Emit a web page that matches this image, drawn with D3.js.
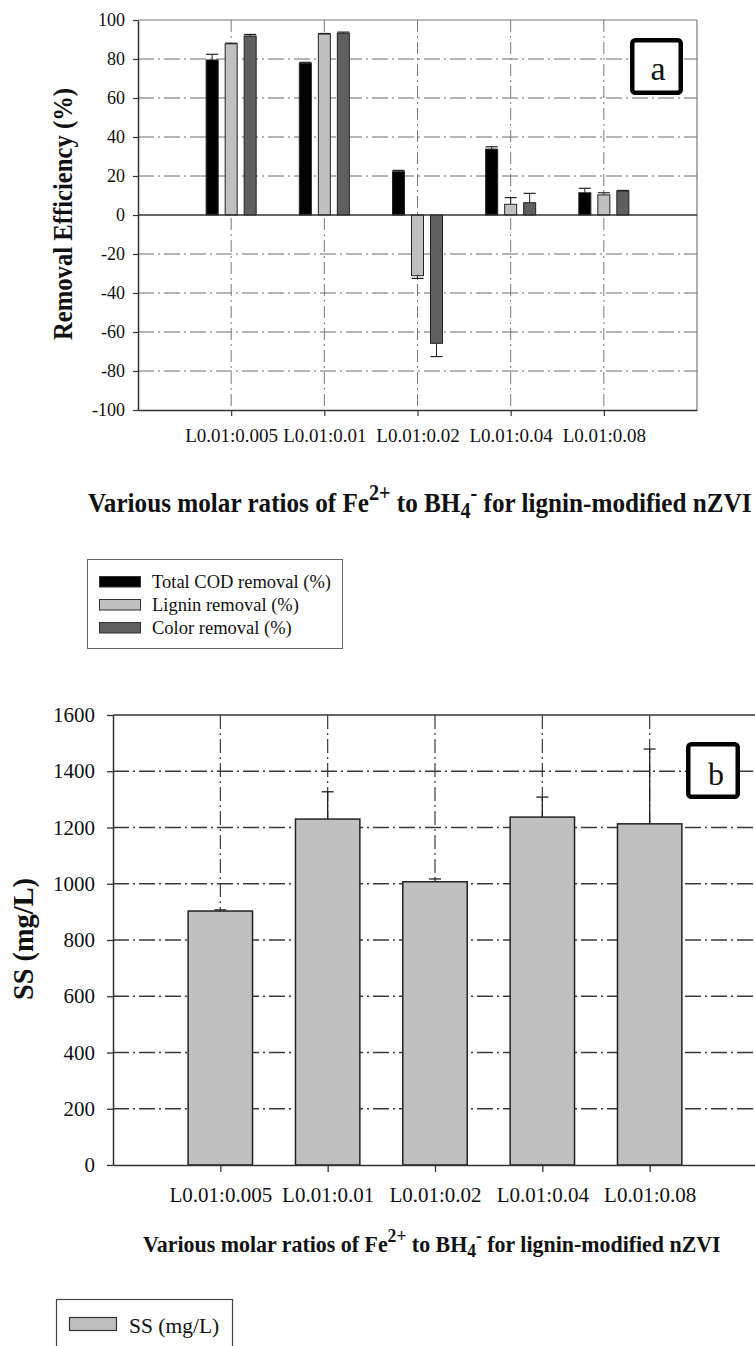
<!DOCTYPE html>
<html>
<head>
<meta charset="utf-8">
<script src="https://cdn.jsdelivr.net/npm/d3@7"></script>
<style>
  body { margin: 0; background: #fff; }
  svg { display: block; }
  text { font-family: "Liberation Serif", "Times New Roman", serif; fill: #111; }
</style>
</head>
<body>
<svg id="chart" width="755" height="1346"></svg>
<script>
// Sample labels (molar ratio Fe2+ : BH4- for lignin-modified nZVI)
const categories = ["L0.01:0.005", "L0.01:0.01", "L0.01:0.02", "L0.01:0.04", "L0.01:0.08"];

// Panel a: removal efficiencies (%) with standard deviations
const seriesNames = ["Total COD removal (%)", "Lignin removal (%)", "Color removal (%)"];
const seriesColors = ["#000000", "#c0c0c0", "#5f5f5f"];
const codRemoval    = [79.5, 77.8, 22.2, 33.8, 11.4];
const codErr        = [2.9, 0.5, 0.7, 1.2, 2.3];
const ligninRemoval = [87.8, 92.8, -31.1, 5.5, 10.3];
const ligninErr     = [0.3, 0.3, 1.4, 3.4, 1.1];
const colorRemoval  = [91.8, 93.2, -65.8, 6.3, 12.3];
const colorErr      = [0.8, 0.6, 6.8, 4.8, 0.3];
const ticksA = [-100, -80, -60, -40, -20, 0, 20, 40, 60, 80, 100];

// Panel b: suspended solids (mg/L) with standard deviations
const ssName = "SS (mg/L)";
const ssValues = [903, 1230, 1007, 1237, 1213];
const ssErr    = [4, 97, 10, 71, 266];
const ticksB = [0, 200, 400, 600, 800, 1000, 1200, 1400, 1600];

const svg = d3.select("#chart");
const DASH = "16,4,2,4";
const SERIF = "'Liberation Serif', 'Times New Roman', serif";
const plainNum = d => String(d);   // hyphen-minus, no thousands separator

// Writes the axis title with Fe2+ / BH4- formatting and stretches it to a given span
function formulaTitle(x0, x1, baseline, size) {
  const t = svg.append("text")
    .attr("font-size", size).attr("font-weight", "bold")
    .attr("x", 0).attr("y", 0);
  t.append("tspan").text("Various molar ratios of Fe");
  t.append("tspan").attr("font-size", size * 0.8).attr("dy", -size * 0.42).text("2+");
  t.append("tspan").attr("dy", size * 0.42).text(" to BH");
  t.append("tspan").attr("font-size", size * 0.8).attr("dy", size * 0.22).text("4");
  t.append("tspan").attr("font-size", size * 0.8).attr("dy", -size * 0.62).text("-");
  t.append("tspan").attr("dy", size * 0.40).text(" for lignin-modified nZVI");
  const w = t.node().getBBox().width;
  t.attr("transform", `translate(${x0},${baseline}) scale(${(x1 - x0) / w},1)`);
}

function boxLabel(x, y, w, h, letter, lx, ly, size) {
  svg.append("rect").attr("x", x).attr("y", y).attr("width", w).attr("height", h)
    .attr("rx", 3).attr("fill", "#fff").attr("stroke", "#000").attr("stroke-width", 4.5);
  svg.append("text").attr("x", lx).attr("y", ly).attr("font-size", size)
    .attr("text-anchor", "middle").attr("fill", "#000").text(letter);
}

function styleTicks(sel, size) {
  sel.selectAll(".tick text").attr("font-size", size).style("font-family", SERIF).attr("fill", "#111");
}

/* ---------------- Panel a ---------------- */
{
  const left = 138, right = 697, top = 20, bottom = 410;
  const x = d3.scalePoint().domain(categories).range([left, right]).padding(1);
  const y = d3.scaleLinear().domain([-100, 100]).range([bottom, top]);
  const inner = d3.scaleBand().domain(seriesNames).range([-25, 25]).paddingInner(0.368);
  const g = svg.append("g");

  // dash-dot grid
  g.selectAll(".hgrid").data(ticksA.filter(v => v !== 0 && Math.abs(v) !== 100)).join("line")
    .attr("x1", left).attr("x2", right).attr("y1", d => y(d)).attr("y2", d => y(d))
    .attr("stroke", "#6a6a6a").attr("stroke-width", 1).attr("stroke-dasharray", DASH);
  g.selectAll(".vgrid").data(categories).join("line")
    .attr("x1", d => x(d)).attr("x2", d => x(d)).attr("y1", top).attr("y2", bottom)
    .attr("stroke", "#7a7a7a").attr("stroke-width", 1).attr("stroke-dasharray", "12,4,2,4");

  // frame top / right
  g.append("line").attr("x1", left).attr("x2", right).attr("y1", top).attr("y2", top)
    .attr("stroke", "#777").attr("stroke-width", 1.2);
  g.append("line").attr("x1", right).attr("x2", right).attr("y1", top).attr("y2", bottom)
    .attr("stroke", "#777").attr("stroke-width", 1.2);

  const series = [
    { name: seriesNames[0], color: seriesColors[0], values: codRemoval, errs: codErr },
    { name: seriesNames[1], color: seriesColors[1], values: ligninRemoval, errs: ligninErr },
    { name: seriesNames[2], color: seriesColors[2], values: colorRemoval, errs: colorErr }
  ];
  const bw = inner.bandwidth();
  series.forEach(s => {
    const data = categories.map((c, i) => ({ c, v: s.values[i], e: s.errs[i] }));
    g.selectAll(null).data(data).join("rect")
      .attr("x", d => x(d.c) + inner(s.name))
      .attr("width", bw)
      .attr("y", d => y(Math.max(d.v, 0)))
      .attr("height", d => Math.abs(y(d.v) - y(0)))
      .attr("fill", s.color).attr("stroke", "#222").attr("stroke-width", 1);
    // error bars point away from zero
    data.forEach(d => {
      const cx = x(d.c) + inner(s.name) + bw / 2;
      const end = d.v + Math.sign(d.v) * d.e;
      g.append("line").attr("x1", cx).attr("x2", cx).attr("y1", y(d.v)).attr("y2", y(end))
        .attr("stroke", "#222").attr("stroke-width", 1);
      g.append("line").attr("x1", cx - bw / 2).attr("x2", cx + bw / 2).attr("y1", y(end)).attr("y2", y(end))
        .attr("stroke", "#222").attr("stroke-width", 1.2);
    });
  });

  // zero line
  g.append("line").attr("x1", left).attr("x2", right).attr("y1", y(0)).attr("y2", y(0))
    .attr("stroke", "#333").attr("stroke-width", 1.3);

  // axes
  const ya = g.append("g").attr("transform", `translate(${left},0)`)
    .call(d3.axisLeft(y).tickValues(ticksA).tickFormat(plainNum).tickSize(5).tickSizeOuter(0).tickPadding(8));
  ya.select(".domain").attr("stroke", "#333").attr("stroke-width", 1.5);
  ya.selectAll(".tick line").attr("stroke", "#333").attr("stroke-width", 1.2);
  styleTicks(ya, 18);

  const xa = g.append("g").attr("transform", `translate(0,${bottom})`)
    .call(d3.axisBottom(x).tickSize(6).tickSizeOuter(0).tickPadding(13));
  xa.select(".domain").attr("stroke", "#333").attr("stroke-width", 1.5);
  xa.selectAll(".tick line").attr("stroke", "#333").attr("stroke-width", 1.2);
  styleTicks(xa, 19);

  // y axis title
  svg.append("text").attr("transform", `translate(72,214) rotate(-90)`)
    .attr("text-anchor", "middle").attr("font-size", 28).attr("font-weight", "bold")
    .attr("textLength", 252).attr("lengthAdjust", "spacingAndGlyphs")
    .text("Removal Efficiency (%)");

  formulaTitle(88, 752, 512, 28);

  boxLabel(632.25, 40.25, 48.5, 52.5, "a", 658, 80, 34);

  // legend
  const lg = svg.append("g");
  lg.append("rect").attr("x", 87.5).attr("y", 559.5).attr("width", 255).attr("height", 89)
    .attr("fill", "#fff").attr("stroke", "#666").attr("stroke-width", 1);
  seriesNames.forEach((n, i) => {
    const yy = 576 + i * 23;
    lg.append("rect").attr("x", 99.5).attr("y", yy + 0.5).attr("width", 41).attr("height", 10.5)
      .attr("fill", seriesColors[i]).attr("stroke", "#333").attr("stroke-width", 1);
    lg.append("text").attr("x", 152).attr("y", yy + 12).attr("font-size", 18.5).text(n);
  });
}

/* ---------------- Panel b ---------------- */
{
  const left = 113, right = 757, top = 715, bottom = 1165;
  const x = d3.scalePoint().domain(categories).range([left, right]).padding(1);
  const y = d3.scaleLinear().domain([0, 1600]).range([bottom, top]);
  const bw = x.step() * 0.6;
  const g = svg.append("g");

  g.selectAll(".hgrid").data(ticksB.filter(v => v > 0 && v < 1600)).join("line")
    .attr("x1", left).attr("x2", 755).attr("y1", d => y(d)).attr("y2", d => y(d))
    .attr("stroke", "#3a3a3a").attr("stroke-width", 1.4).attr("stroke-dasharray", DASH);
  g.selectAll(".vgrid").data(categories).join("line")
    .attr("x1", d => x(d)).attr("x2", d => x(d)).attr("y1", top).attr("y2", bottom)
    .attr("stroke", "#3a3a3a").attr("stroke-width", 1.2).attr("stroke-dasharray", "14,4,2,4");

  g.append("line").attr("x1", left).attr("x2", 755).attr("y1", top).attr("y2", top)
    .attr("stroke", "#333").attr("stroke-width", 1.5);

  const data = categories.map((c, i) => ({ c, v: ssValues[i], e: ssErr[i] }));
  g.selectAll(null).data(data).join("rect")
    .attr("x", d => x(d.c) - bw / 2).attr("width", bw)
    .attr("y", d => y(d.v)).attr("height", d => y(0) - y(d.v))
    .attr("fill", "#c0c0c0").attr("stroke", "#222").attr("stroke-width", 1.5);
  data.forEach(d => {
    const cx = x(d.c);
    g.append("line").attr("x1", cx).attr("x2", cx).attr("y1", y(d.v)).attr("y2", y(d.v + d.e))
      .attr("stroke", "#222").attr("stroke-width", 1.3);
    g.append("line").attr("x1", cx - 6).attr("x2", cx + 6).attr("y1", y(d.v + d.e)).attr("y2", y(d.v + d.e))
      .attr("stroke", "#222").attr("stroke-width", 1.3);
  });

  const ya = g.append("g").attr("transform", `translate(${left},0)`)
    .call(d3.axisLeft(y).tickValues(ticksB).tickFormat(plainNum).tickSize(6).tickSizeOuter(0).tickPadding(12));
  ya.select(".domain").attr("stroke", "#333").attr("stroke-width", 1.5);
  ya.selectAll(".tick line").attr("stroke", "#333").attr("stroke-width", 1.3);
  styleTicks(ya, 21);

  const xa = g.append("g").attr("transform", `translate(0,${bottom})`)
    .call(d3.axisBottom(x).tickSize(7).tickSizeOuter(0).tickPadding(15));
  xa.select(".domain").attr("stroke", "#333").attr("stroke-width", 1.5);
  xa.selectAll(".tick line").attr("stroke", "#333").attr("stroke-width", 1.3);
  styleTicks(xa, 21);

  svg.append("text").attr("transform", `translate(33,939) rotate(-90)`)
    .attr("text-anchor", "middle").attr("font-size", 29).attr("font-weight", "bold")
    .attr("textLength", 122).attr("lengthAdjust", "spacingAndGlyphs")
    .text("SS (mg/L)");

  formulaTitle(143, 721, 1252, 24);

  boxLabel(688.25, 744.25, 49.5, 52.5, "b", 716, 785, 32);

  const lg = svg.append("g");
  lg.append("rect").attr("x", 56.5).attr("y", 1299.5).attr("width", 176).attr("height", 70)
    .attr("fill", "#fff").attr("stroke", "#444").attr("stroke-width", 1.2);
  lg.append("rect").attr("x", 69.5).attr("y", 1317.5).attr("width", 47).attr("height", 13)
    .attr("fill", "#c0c0c0").attr("stroke", "#333").attr("stroke-width", 1.2);
  lg.append("text").attr("x", 129).attr("y", 1333).attr("font-size", 21.5).text(ssName);
}
</script>
</body>
</html>
